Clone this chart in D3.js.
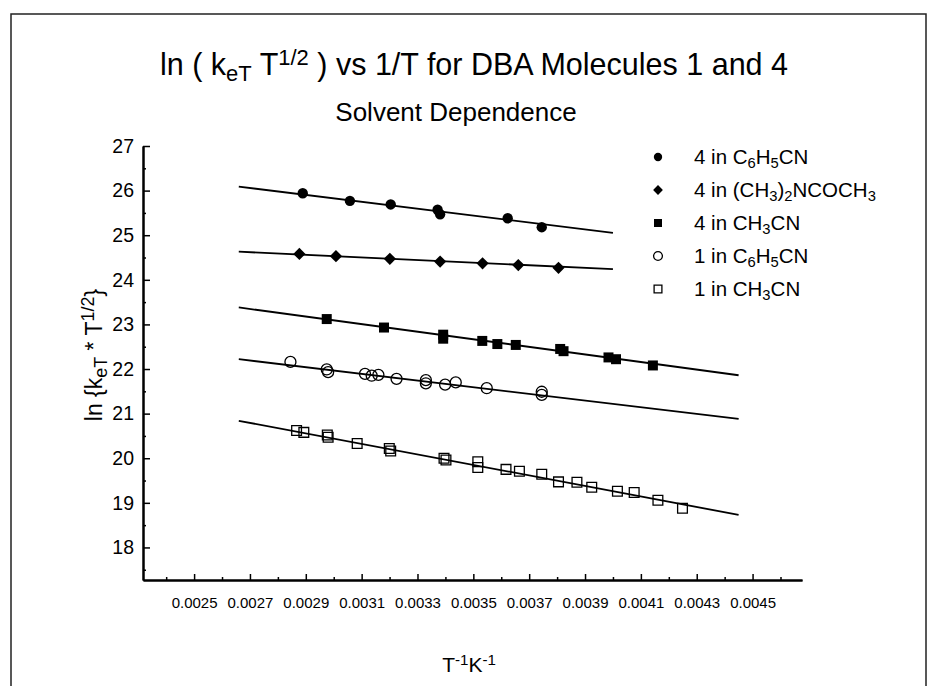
<!DOCTYPE html>
<html>
<head>
<meta charset="utf-8">
<script src="https://cdn.jsdelivr.net/npm/d3@7"></script>
<style>
  html, body { margin: 0; padding: 0; background: #fff; }
  svg { display: block; font-family: "Liberation Sans", Arial, Helvetica, sans-serif; }
</style>
</head>
<body>
<div id="chart"></div>
<script>
// ---- data ----
// 4 in C6H5CN (filled circles)
const xA = [0.002889, 0.003058, 0.003204, 0.003372, 0.003381, 0.003623, 0.003745];
const yA = [25.94, 25.77, 25.69, 25.57, 25.47, 25.38, 25.18];
// 4 in (CH3)2NCOCH3 (filled diamonds)
const xB = [0.002877, 0.003008, 0.003201, 0.003381, 0.003533, 0.003661, 0.003805];
const yB = [24.58, 24.53, 24.47, 24.41, 24.37, 24.33, 24.27];
// 4 in CH3CN (filled squares)
const xC = [0.002975, 0.00318, 0.003392, 0.003392, 0.003532, 0.003586, 0.003652,
            0.003811, 0.003823, 0.003984, 0.004011, 0.004143];
const yC = [23.12, 22.93, 22.77, 22.68, 22.63, 22.56, 22.54, 22.45, 22.40, 22.26, 22.22, 22.08];
// 1 in C6H5CN (open circles)
const xD = [0.002845, 0.002975, 0.00298, 0.003112, 0.003136, 0.00316, 0.003225,
            0.00333, 0.00333, 0.003399, 0.003437, 0.003548, 0.003745, 0.003745];
const yD = [22.16, 21.99, 21.93, 21.89, 21.85, 21.87, 21.78, 21.75, 21.68, 21.65, 21.70, 21.57, 21.49, 21.42];
// 1 in CH3CN (open squares)
const xE = [0.002867, 0.002893, 0.002977, 0.00298, 0.003084, 0.003199, 0.003204,
            0.003395, 0.003402, 0.003516, 0.003516, 0.003617, 0.003665, 0.003745,
            0.003805, 0.003871, 0.003924, 0.004016, 0.004076, 0.004161, 0.004249];
const yE = [20.62, 20.58, 20.52, 20.47, 20.33, 20.22, 20.16, 20.00, 19.96, 19.92, 19.79,
            19.75, 19.71, 19.64, 19.47, 19.46, 19.35, 19.26, 19.23, 19.06, 18.88];

// fitted lines: [x0, x1] and [y0, y1]
const fitX = [[0.00266, 0.0040], [0.00266, 0.0040], [0.00266, 0.00445], [0.00266, 0.00445], [0.00266, 0.00445]];
const fitY = [[26.09, 25.05], [24.63, 24.24], [23.38, 21.86], [22.22, 20.88], [20.84, 18.73]];

const seriesLabels = ["4 in C_6H_5CN", "4 in (CH_3)_2NCOCH_3", "4 in CH_3CN", "1 in C_6H_5CN", "1 in CH_3CN"];
const seriesMarks = ["circle", "diamond", "square", "ocircle", "osquare"];

const xMajorTicks = [0.0025, 0.0027, 0.0029, 0.0031, 0.0033, 0.0035, 0.0037, 0.0039, 0.0041, 0.0043, 0.0045];
const xMinorTicks = [0.0024, 0.0026, 0.0028, 0.0030, 0.0032, 0.0034, 0.0036, 0.0038, 0.0040, 0.0042, 0.0044, 0.0046];
const yMajorTicks = [18, 19, 20, 21, 22, 23, 24, 25, 26, 27];
const yMinorTicks = [17.5, 18.5, 19.5, 20.5, 21.5, 22.5, 23.5, 24.5, 25.5, 26.5];

// ---- layout ----
const width = 949, height = 686;
const plot = { left: 143, right: 802, top: 146, bottom: 580 };

const svg = d3.select("#chart").append("svg")
  .attr("width", width).attr("height", height)
  .attr("viewBox", [0, 0, width, height]);

// frame around the figure
svg.append("path")
  .attr("d", `M11,${height} V14 H926 V${height}`)
  .attr("fill", "none").attr("stroke", "#222").attr("stroke-width", 1.5);

const x = d3.scaleLinear().domain([0.002317, 0.004677]).range([plot.left, plot.right]);
const y = d3.scaleLinear().domain([17.27, 27]).range([plot.bottom, plot.top]);

// write text with sub / sup parts
function richText(sel, parts, scale = 0.72) {
  parts.forEach(([t, kind]) => {
    const ts = sel.append("tspan").text(t);
    if (kind === "sub") ts.attr("baseline-shift", "-25%").attr("font-size", `${scale * 100}%`);
    if (kind === "sup") ts.attr("baseline-shift", "45%").attr("font-size", `${scale * 100}%`);
  });
}
function parseChem(str) {
  const parts = [];
  str.split(/(_\d)/).forEach(s => {
    if (!s) return;
    if (s[0] === "_") parts.push([s.slice(1), "sub"]);
    else parts.push([s, null]);
  });
  return parts;
}

// titles
richText(svg.append("text").attr("x", 474).attr("y", 75)
  .attr("text-anchor", "middle").attr("font-size", 30.5),
  [["ln ( k", null], ["eT", "sub"], [" T", null], ["1/2", "sup"], [" ) vs 1/T for DBA Molecules 1 and 4", null]]);

svg.append("text").attr("x", 456).attr("y", 121)
  .attr("text-anchor", "middle").attr("font-size", 26)
  .text("Solvent Dependence");

// axis labels
richText(svg.append("text")
  .attr("transform", `translate(102,355) rotate(-90)`)
  .attr("text-anchor", "middle").attr("font-size", 23),
  [["ln {k", null], ["eT", "sub"], [" * T", null], ["1/2", "sup"], ["}", null]], 0.78);

richText(svg.append("text").attr("x", 469).attr("y", 672)
  .attr("text-anchor", "middle").attr("font-size", 21),
  [["T", null], ["-1", "sup"], ["K", null], ["-1", "sup"]]);

// axes
const gx = svg.append("g").attr("transform", `translate(0,${plot.bottom})`);
gx.call(d3.axisBottom(x).tickValues(xMinorTicks).tickSize(-3).tickSizeOuter(0).tickFormat(""));
gx.append("g").call(d3.axisBottom(x).tickValues(xMajorTicks).tickSize(-6).tickSizeOuter(0)
  .tickPadding(17).tickFormat(d3.format(".4f")));

const gy = svg.append("g").attr("transform", `translate(${plot.left},0)`);
gy.call(d3.axisLeft(y).tickValues(yMinorTicks).tickSize(-3).tickSizeOuter(0).tickFormat(""));
gy.append("g").call(d3.axisLeft(y).tickValues(yMajorTicks).tickSize(-7).tickSizeOuter(0)
  .tickPadding(9).tickFormat(d3.format("d")));

svg.selectAll(".domain").attr("stroke", "#000").attr("stroke-width", 2);
svg.selectAll(".tick line").attr("stroke", "#000").attr("stroke-width", 1.5);
gx.selectAll(".tick text").attr("font-size", 15).attr("fill", "#000");
gy.selectAll(".tick text").attr("font-size", 19.5).attr("fill", "#000");
svg.selectAll(".tick text").attr("font-family", "Liberation Sans, Arial, sans-serif");

// fitted lines
const line = d3.line().x(d => x(d[0])).y(d => y(d[1]));
fitX.forEach((xs, i) => {
  svg.append("path")
    .datum(xs.map((v, j) => [v, fitY[i][j]]))
    .attr("d", line)
    .attr("fill", "none").attr("stroke", "#000").attr("stroke-width", 1.8);
});

// markers
function drawMark(g, kind, s) {
  if (kind === "circle") g.append("circle").attr("r", 5.2 * s).attr("fill", "#000");
  if (kind === "ocircle") g.append("circle").attr("r", 5.5 * s).attr("fill", "none")
    .attr("stroke", "#000").attr("stroke-width", 1.3);
  if (kind === "diamond") g.append("path").attr("d", d3.symbol(d3.symbolSquare, 75 * s * s)())
    .attr("transform", "rotate(45)").attr("fill", "#000");
  if (kind === "square") g.append("path").attr("d", d3.symbol(d3.symbolSquare, 100 * s * s)()).attr("fill", "#000");
  if (kind === "osquare") g.append("path").attr("d", d3.symbol(d3.symbolSquare, 95 * s * s)())
    .attr("fill", "none").attr("stroke", "#000").attr("stroke-width", 1.3);
}

const seriesX = [xA, xB, xC, xD, xE];
const seriesY = [yA, yB, yC, yD, yE];
seriesX.forEach((xs, i) => {
  const pts = xs.map((v, j) => [v, seriesY[i][j]]);
  svg.append("g").selectAll("g")
    .data(pts)
    .join("g")
    .attr("transform", d => `translate(${x(d[0])},${y(d[1])})`)
    .each(function () { drawMark(d3.select(this), seriesMarks[i], 1); });
});

// legend
const legendY = d3.scalePoint().domain(d3.range(seriesLabels.length)).range([157, 289]);
const legend = svg.append("g");
seriesLabels.forEach((lab, i) => {
  const row = legend.append("g").attr("transform", `translate(658,${legendY(i)})`);
  drawMark(row, seriesMarks[i], 0.8);
  richText(row.append("text").attr("x", 36).attr("y", 0).attr("dy", "0.35em").attr("font-size", 20.5),
    parseChem(lab));
});
</script>
</body>
</html>
